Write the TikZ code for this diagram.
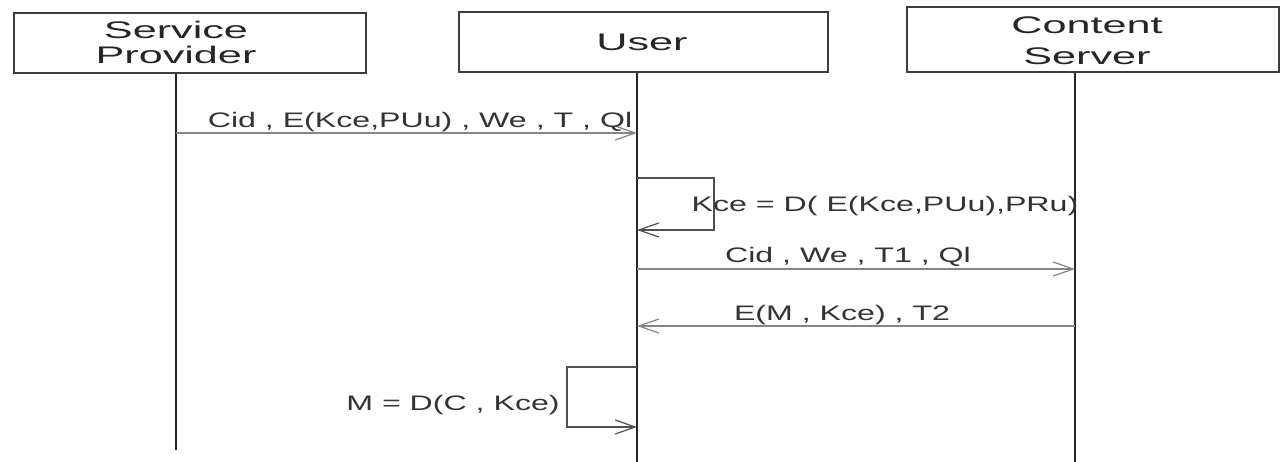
\documentclass[tikz,border=0pt]{standalone}
\usepackage{fontspec}
\setmainfont{Liberation Sans}
\usepackage{graphicx}
\usetikzlibrary{arrows.meta}
\definecolor{boxc}{HTML}{3C3C3C}
\definecolor{msgc}{HTML}{858585}
\definecolor{loopc}{HTML}{505050}
\tikzset{
  actorbox/.style={draw=boxc,line width=2.2pt,inner sep=0pt},
  actortext/.style={font=\fontsize{24}{25}\selectfont,align=center,inner sep=0pt,text=black!85},
  lifeline/.style={draw=black!85,line width=1.8pt},
  msgline/.style={draw=msgc,line width=1.8pt,-{Straight Barb[length=20pt,width=14pt,line width=1.2pt]}},
  loopline/.style={draw=loopc,line width=1.8pt,-{Straight Barb[length=20pt,width=14pt,line width=1.2pt]}},
  msgtext/.style={font=\fontsize{21}{22}\selectfont,inner sep=0pt,anchor=base,text=black!80}
}
\newcommand{\wide}[1]{\scalebox{1.53}[1]{#1}}
\newcommand{\wider}[1]{\scalebox{1.8}[1]{#1}}
\begin{document}
\begin{tikzpicture}[x=1pt,y=-1pt]
\useasboundingbox (0,0) rectangle (1280,462);
% actor boxes
\node[actorbox,minimum width=352pt,minimum height=60pt] (sp) at (190,43) {};
\node[actorbox,minimum width=369pt,minimum height=60pt] (us) at (643.5,42) {};
\node[actorbox,minimum width=372pt,minimum height=65pt] (cs) at (1093,39.5) {};
\node[actortext] (spt) at (176,42) {\wider{Service}\\\wider{Provider}};
\node[actortext,anchor=base] (ust) at (642,51) {\wider{User}};
\node[actortext,font=\fontsize{24}{31}\selectfont] (cst) at (1087,41) {\wider{Content}\\\wider{Server}};
% lifeline ends
\coordinate (spB) at (176,450);
\coordinate (usB) at (637,462);
\coordinate (csB) at (1075,462);
\draw[lifeline] (sp.south -| spB) -- (spB);
\draw[lifeline] (us.south -| usB) -- (usB);
\draw[lifeline] (cs.south -| csB) -- (csB);
% message points
\coordinate (m1a) at (176,133);
\coordinate (m1b) at (637,133);
\coordinate (l1a) at (637,178);
\coordinate (l1b) at (714,178);
\coordinate (l1c) at (714,230);
\coordinate (l1d) at (637,230);
\coordinate (m3a) at (637,269);
\coordinate (m3b) at (1075,269);
\coordinate (m4a) at (1075,326);
\coordinate (m4b) at (637,326);
\coordinate (l2a) at (637,367);
\coordinate (l2b) at (567,367);
\coordinate (l2c) at (567,427);
\coordinate (l2d) at (637,427);
% messages
\draw[msgline] (m1a) -- (m1b);
\node[msgtext] (t1) at (420,128) {\wide{Cid , E(Kce,PUu) , We , T , Ql}};
\draw[loopline] (l1a) -- (l1b) -- (l1c) -- (l1d);
\node[msgtext] (t2) at (885,212) {\wide{Kce = D( E(Kce,PUu),PRu)}};
\draw[msgline] (m3a) -- (m3b);
\node[msgtext] (t3) at (848,263) {\wide{Cid , We , T1 , Ql}};
\draw[msgline] (m4a) -- (m4b);
\node[msgtext] (t4) at (842,321) {\wide{E(M , Kce) , T2}};
\draw[loopline] (l2a) -- (l2b) -- (l2c) -- (l2d);
\node[msgtext] (t5) at (453,410) {\wide{M = D(C , Kce)}};
\end{tikzpicture}
\end{document}
